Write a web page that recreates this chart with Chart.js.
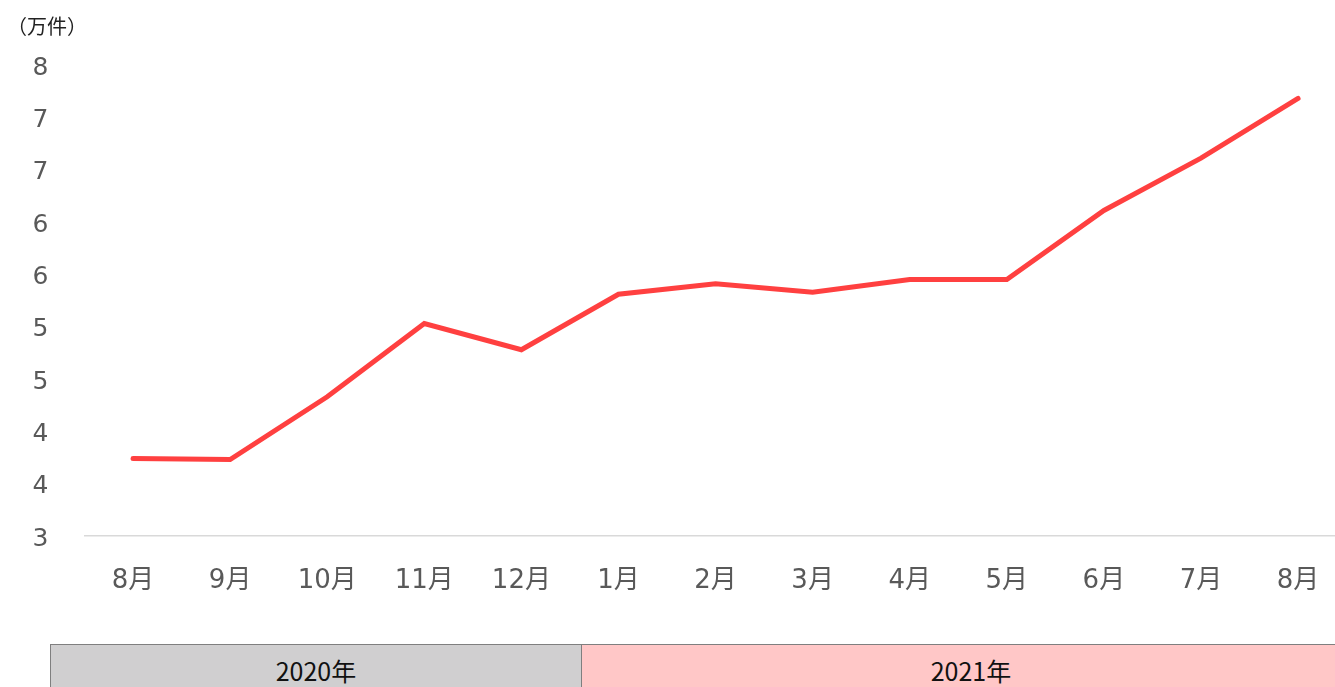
<!DOCTYPE html>
<html>
<head>
<meta charset="utf-8">
<script src="https://cdn.jsdelivr.net/npm/chart.js@4.4.1/dist/chart.umd.min.js"></script>
<style>
  html, body { margin: 0; padding: 0; background: #ffffff; overflow: hidden; width: 1335px; height: 687px; }
  #wrap { position: absolute; left: 0; top: 0; width: 1350px; height: 620px; }
  #unit { position: absolute; left: 7px; top: 11px; font-family: "Noto Sans CJK JP", sans-serif; font-size: 20px; color: #222; }
  .yr { position: absolute; top: 644px; height: 60px; box-sizing: border-box; border: 1.5px solid #7f7f7f;
        font-family: "Noto Sans CJK JP", sans-serif; font-size: 25px; color: #111; text-align: center; line-height: 50px; }
</style>
</head>
<body>
<div id="wrap"><canvas id="c" width="1350" height="620"></canvas></div>
<div id="unit">（万件）</div>
<div class="yr" id="y2020" style="left:50px; width:532px; background:#d0cfd0;">2020年</div>
<div class="yr" id="y2021" style="left:581px; width:780px; background:#ffc7c7;">2021年</div>
<script>
const categories = ["8月", "9月", "10月", "11月", "12月", "1月", "2月", "3月", "4月", "5月", "6月", "7月", "8月"];
const values = [3.74, 3.73, 4.33, 5.03, 4.78, 5.31, 5.41, 5.33, 5.45, 5.45, 6.11, 6.61, 7.18];
const yMin = 3;
const yMax = 7.5;
const yStep = 0.5;

const xTickFont = { family: "'DejaVu Sans', 'Noto Sans CJK JP', sans-serif", size: 26 };
const yTickFont = { family: "'DejaVu Sans', 'Noto Sans CJK JP', sans-serif", size: 25 };

new Chart(document.getElementById('c'), {
  type: 'line',
  data: {
    labels: categories,
    datasets: [{
      data: values,
      borderColor: '#ff4040',
      borderWidth: 5,
      borderCapStyle: 'round',
      borderJoinStyle: 'miter',
      pointRadius: 0,
      tension: 0,
      fill: false
    }]
  },
  options: {
    responsive: false,
    animation: false,
    devicePixelRatio: 1,
    layout: { padding: { top: 65, right: 3.4, left: 0, bottom: 0 } },
    plugins: { legend: { display: false }, tooltip: { enabled: false } },
    scales: {
      x: {
        offset: true,
        grid: { display: false, drawTicks: false },
        border: { display: true, color: '#d9d9d9', width: 1.5 },
        ticks: { font: xTickFont, color: '#595959', padding: 30, maxRotation: 0, autoSkip: false },
        afterFit: (s) => { s.height = 84; }
      },
      y: {
        min: yMin,
        max: yMax,
        grid: { display: false, drawTicks: false },
        border: { display: false },
        ticks: {
          stepSize: yStep,
          font: yTickFont,
          color: '#595959',
          padding: 36,
          labelOffset: 3,
          callback: (v) => String(Math.round(v))
        },
        afterFit: (s) => { s.width = 84.5; }
      }
    }
  }
});
</script>
</body>
</html>
